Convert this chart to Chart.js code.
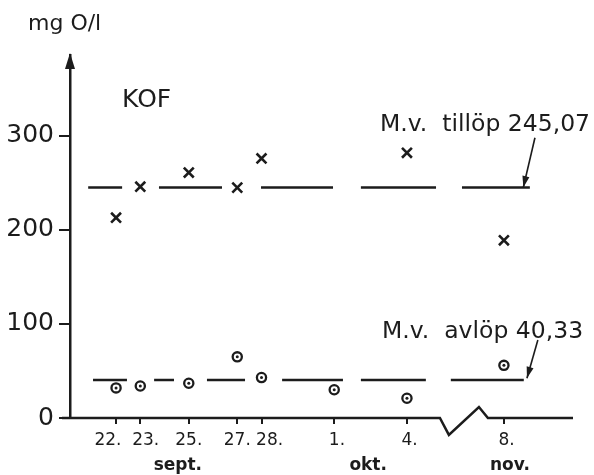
<!DOCTYPE html>
<html>
<head>
<meta charset="utf-8">
<script src="https://cdn.jsdelivr.net/npm/chart.js@4"></script>
<style>
  html, body { margin: 0; padding: 0; background: #fff; }
  #wrap { width: 594px; height: 475px; }
</style>
</head>
<body>
<div id="wrap"><canvas id="kofChart"></canvas></div>
<script>
// x positions are days counted from 22 sept (axis is broken between 4 okt and 8 nov)
const tickDays = [0, 1, 3, 5, 6, 9, 12, 16];
// spaces nudge crowded labels apart, as on the original drawing
const tickLabels = ['22.   ', '  23.', '25.', '27.', '   28.', ' 1.', ' 4.', ' 8.'];
const monthLabels = ['sept.', 'okt.', 'nov.'];
const monthDays = [2.55, 10.4, 16.25];

const tillopDays = [0, 1, 3, 5, 6, 12, 16];
const tillopValues = [213, 246, 261, 245, 276, 282, 189];
const avlopDays = [0, 1, 3, 5, 6, 9, 12, 16];
const avlopValues = [32, 34, 37, 65, 43, 30, 21, 56];

const tillopMean = 245.07;
const avlopMean = 40.33;
const tillopSegments = [[-1.15, 0.25], [1.77, 4.37], [5.98, 8.95], [10.1, 13.2], [14.27, 17.07]];
const avlopSegments = [[-0.95, 0.45], [1.57, 2.39], [3.75, 5.32], [6.85, 9.36], [10.1, 12.78], [13.81, 16.82]];

const yTicks = [0, 100, 200, 300];

const ink = '#1c1c1c';
const font = 'DejaVu Sans';

function points(days, values) {
  return days.map((d, i) => ({ x: d, y: values[i] }));
}

function segmentLine(segments, mean) {
  const out = [];
  segments.forEach((s, i) => {
    out.push({ x: s[0], y: mean }, { x: s[1], y: mean });
    if (i < segments.length - 1) out.push({ x: (s[1] + segments[i + 1][0]) / 2, y: null });
  });
  return out;
}

// axes, break, arrows and labels
const decor = {
  id: 'decor',
  afterDraw(chart) {
    const { ctx, chartArea: a } = chart;
    const xs = chart.scales.x, ys = chart.scales.y;
    const px = v => xs.getPixelForValue(v);
    const py = v => ys.getPixelForValue(v);
    ctx.save();
    ctx.strokeStyle = ink;
    ctx.fillStyle = ink;
    ctx.lineWidth = 2.5;
    ctx.lineJoin = 'miter';

    // x axis with zigzag break
    const y0 = py(0);
    ctx.beginPath();
    ctx.moveTo(a.left - 8, y0);
    ctx.lineTo(px(13.36), y0);
    ctx.lineTo(px(13.73), py(-18));
    ctx.lineTo(px(14.97), py(11.7));
    ctx.lineTo(px(15.34), y0);
    ctx.lineTo(a.right, y0);
    ctx.stroke();

    // arrowhead on y axis
    ctx.beginPath();
    ctx.moveTo(a.left, a.top - 2);
    ctx.lineTo(a.left - 5, a.top + 14);
    ctx.lineTo(a.left + 5, a.top + 14);
    ctx.closePath();
    ctx.fill();

    // annotation arrows
    function arrow(x1, y1, x2, y2) {
      const ax = px(x1), ay = py(y1), bx = px(x2), by = py(y2);
      const ang = Math.atan2(by - ay, bx - ax);
      ctx.lineWidth = 1.6;
      ctx.beginPath();
      ctx.moveTo(ax, ay);
      ctx.lineTo(bx, by);
      ctx.stroke();
      ctx.beginPath();
      ctx.moveTo(bx, by);
      ctx.lineTo(bx - 12 * Math.cos(ang - 0.3), by - 12 * Math.sin(ang - 0.3));
      ctx.lineTo(bx - 12 * Math.cos(ang + 0.3), by - 12 * Math.sin(ang + 0.3));
      ctx.closePath();
      ctx.fill();
    }
    arrow(17.28, 298, 16.8, tillopMean);
    arrow(17.4, 83, 16.95, avlopMean + 2);

    // texts
    ctx.textBaseline = 'alphabetic';
    ctx.textAlign = 'left';
    ctx.font = '22px "' + font + '"';
    ctx.fillText('mg O/l', 28, 30);
    ctx.font = '25px "' + font + '"';
    ctx.fillText('KOF', px(0.25), py(331));
    ctx.font = '23.5px "' + font + '"';
    ctx.fillText('M.v.  tillöp 245,07', px(10.89), py(305));
    ctx.fillText('M.v.  avlöp 40,33', px(10.97), py(85));

    ctx.textAlign = 'center';
    ctx.textBaseline = 'middle';
    ctx.font = 'bold 17px "' + font + '"';
    monthLabels.forEach((m, i) => ctx.fillText(m, px(monthDays[i]), 466));
    ctx.restore();
  }
};

new Chart(document.getElementById('kofChart'), {
  type: 'scatter',
  data: {
    datasets: [
      {
        label: 'M.v. tillöp',
        type: 'line',
        data: segmentLine(tillopSegments, tillopMean),
        borderColor: ink,
        borderWidth: 2.5,
        pointRadius: 0,
        spanGaps: false
      },
      {
        label: 'M.v. avlöp',
        type: 'line',
        data: segmentLine(avlopSegments, avlopMean),
        borderColor: ink,
        borderWidth: 2.5,
        pointRadius: 0,
        spanGaps: false
      },
      {
        label: 'tillöp',
        data: points(tillopDays, tillopValues),
        pointStyle: 'crossRot',
        pointRadius: 7,
        borderColor: ink,
        borderWidth: 2.6
      },
      {
        label: 'avlöp dot',
        data: points(avlopDays, avlopValues),
        pointStyle: 'circle',
        pointRadius: 1.5,
        borderWidth: 0,
        backgroundColor: ink,
        order: -1
      },
      {
        label: 'avlöp',
        data: points(avlopDays, avlopValues),
        pointStyle: 'circle',
        pointRadius: 4.6,
        borderColor: ink,
        backgroundColor: '#fff',
        borderWidth: 2.3
      }
    ]
  },
  options: {
    responsive: true,
    maintainAspectRatio: false,
    animation: false,
    layout: { padding: { top: 55, right: 21, left: 0, bottom: 0 } },
    plugins: {
      legend: { display: false },
      tooltip: { enabled: false }
    },
    scales: {
      x: {
        type: 'linear',
        min: -1.9,
        max: 18.85,
        afterBuildTicks: s => { s.ticks = tickDays.map(v => ({ value: v })); },
        afterFit: s => { s.height = 57; },
        border: { display: false },
        grid: { drawOnChartArea: false, drawTicks: true, tickLength: 6, color: ink, lineWidth: 2 },
        ticks: {
          autoSkip: false,
          maxRotation: 0,
          padding: 6,
          color: ink,
          font: { family: font, size: 17 },
          callback: (v, i) => tickLabels[i]
        }
      },
      y: {
        min: 0,
        max: 386,
        afterBuildTicks: s => { s.ticks = yTicks.map(v => ({ value: v })); },
        afterFit: s => { s.width = 70; },
        border: { display: true, color: ink, width: 2.5 },
        grid: { drawOnChartArea: false, drawTicks: true, tickLength: 11, color: ink, lineWidth: 2 },
        ticks: {
          padding: 5,
          color: ink,
          font: { family: font, size: 25 }
        }
      }
    }
  },
  plugins: [decor]
});
</script>
</body>
</html>
